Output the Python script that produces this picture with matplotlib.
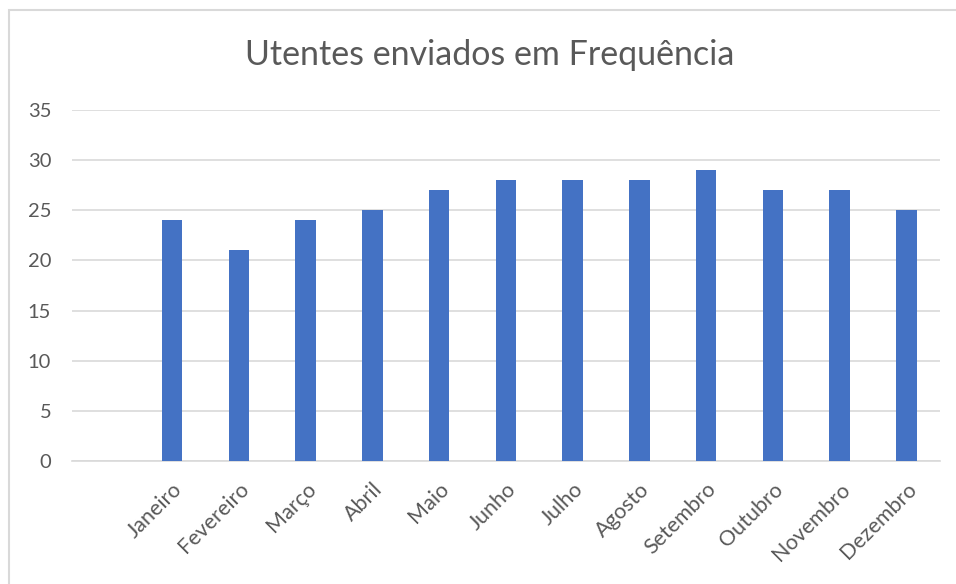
import matplotlib.pyplot as plt
from matplotlib.patches import Rectangle

months = ['Janeiro', 'Fevereiro', 'Março', 'Abril', 'Maio', 'Junho',
          'Julho', 'Agosto', 'Setembro', 'Outubro', 'Novembro', 'Dezembro']
values = [24, 21, 24, 25, 27, 28, 28, 28, 29, 27, 27, 25]
yticks = [0, 5, 10, 15, 20, 25, 30, 35]

plt.rcParams['font.family'] = ['Lato', 'DejaVu Sans']
text_color = '#595959'

fig = plt.figure(figsize=(9.56, 5.84), dpi=100)
ax = fig.add_axes([0.0753, 0.2106, 0.9077, 0.601])

# first slot left empty, as in the original sheet
pos = list(range(1, len(months) + 1))
ax.bar(pos, values, width=0.31, color='#4472C4', zorder=3)

ax.set_xlim(-0.5, len(months) + 0.5)
ax.set_ylim(0, 35)
ax.set_yticks(yticks)
ax.set_xticks(pos)
ax.set_xticklabels(months, rotation=45, ha='right', va='top',
                   rotation_mode='anchor', fontsize=15.5, color=text_color)
ax.tick_params(axis='y', labelsize=14.5, labelcolor=text_color, length=0, pad=15)
ax.tick_params(axis='x', length=0, pad=13)

ax.grid(axis='y', color='#D9D9D9', linewidth=1.2, zorder=0)
for s in ['top', 'right', 'left']:
    ax.spines[s].set_visible(False)
ax.spines['bottom'].set_color('#D9D9D9')
ax.spines['bottom'].set_linewidth(1.2)

fig.text(0.512, 0.905, 'Utentes enviados em Frequência', ha='center', va='center',
         fontsize=24.5, color=text_color)

# chart frame
fig.patches.append(Rectangle((0.009, -0.1), 1.2, 1.083, transform=fig.transFigure,
                             fill=False, edgecolor='#D9D9D9', linewidth=1.5))

fig.savefig('out.png', dpi=100)
